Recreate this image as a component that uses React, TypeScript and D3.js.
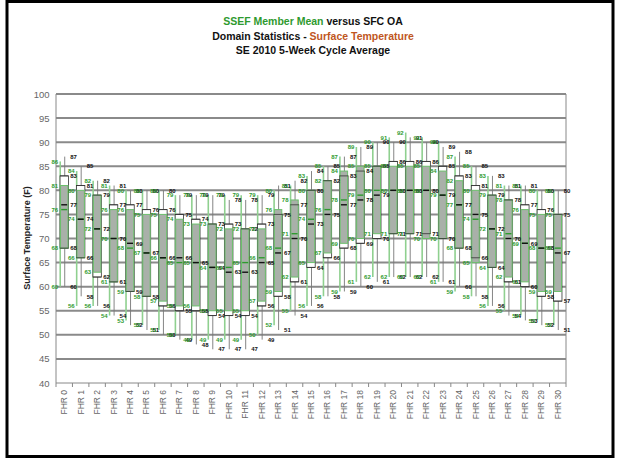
import React from "react";
import * as d3 from "d3";

const categories = d3.range(31).map((i) => `FHR ${i}`);
const yTicks = [40, 45, 50, 55, 60, 65, 70, 75, 80, 85, 90, 95, 100];

// SFC OA (black): max, q3, median, q1, min
const oaMax = [87, 85, 82, 81, 80, 80, 80, 79, 79, 79, 78, 78, 79, 81, 82, 84, 85, 87, 89, 90, 90, 91, 90, 89, 88, 85, 83, 81, 81, 80, 80];
const oaQ3 = [83, 81, 79, 77, 77, 76, 76, 75, 74, 73, 73, 72, 73, 75, 77, 80, 82, 83, 84, 85, 86, 86, 86, 85, 83, 81, 79, 78, 77, 76, 75];
const oaMed = [77, 74, 72, 70, 69, 67, 66, 66, 65, 64, 63, 63, 65, 67, 70, 73, 75, 77, 78, 79, 80, 80, 80, 79, 77, 75, 72, 70, 69, 68, 67];
const oaQ1 = [68, 66, 62, 61, 59, 58, 56, 55, 55, 54, 54, 54, 56, 58, 61, 64, 66, 68, 69, 70, 71, 71, 71, 70, 68, 66, 64, 61, 60, 58, 57];
const oaMin = [60, 58, 56, 54, 52, 51, 50, 49, 48, 47, 47, 47, 49, 51, 54, 56, 58, 59, 60, 61, 62, 62, 62, 61, 60, 58, 56, 54, 53, 52, 51];

// SSEF Member Mean (green): max, q3, median, q1, min
const ssMax = [86, 84, 82, 81, 80, 80, 80, 79, 79, 79, 79, 79, 79, 80, 81, 83, 85, 87, 89, 90, 91, 92, 91, 90, 87, 85, 83, 81, 81, 80, 80];
const ssQ3 = [81, 80, 79, 76, 76, 75, 75, 74, 73, 73, 72, 72, 72, 76, 78, 80, 82, 84, 85, 85, 85, 85, 85, 84, 82, 80, 79, 78, 76, 75, 75];
const ssMed = [76, 74, 72, 70, 68, 67, 66, 65, 65, 64, 64, 65, 66, 68, 71, 74, 76, 78, 79, 80, 80, 80, 80, 79, 77, 74, 72, 71, 69, 68, 68];
const ssQ1 = [68, 66, 63, 61, 59, 58, 57, 56, 56, 55, 55, 55, 57, 59, 62, 65, 67, 69, 70, 71, 71, 71, 70, 70, 68, 65, 64, 62, 61, 59, 59];
const ssMin = [60, 56, 56, 54, 53, 52, 51, 50, 49, 49, 49, 49, 50, 52, 55, 56, 58, 59, 61, 62, 62, 62, 62, 61, 59, 58, 56, 55, 54, 53, 52];

const W = 617;
const H = 459;
const GREEN = "#2f9a2f";
const LGREEN = "#8fd08f";
const FONT = "Liberation Sans, Arial, sans-serif";

export default function App() {
  const x = d3.scaleBand().domain(categories).range([56, 566]);
  const y = d3.scaleLinear().domain([40, 100]).range([383, 94]);
  const bw = 8.4;

  return (
    <svg width={W} height={H} style={{ position: "absolute", left: 0, top: 0, background: "#fff" }} fontFamily={FONT}>
      <rect x={0} y={0} width={W} height={H} fill="#fff" />
      {/* titles */}
      <text x={313} y={25} textAnchor="middle" fontSize={10.5} fontWeight="bold">
        <tspan fill={GREEN}>SSEF Member Mean</tspan>
        <tspan fill="#111"> versus SFC OA</tspan>
      </text>
      <text x={313} y={40} textAnchor="middle" fontSize={10.5} fontWeight="bold">
        <tspan fill="#111">Domain Statistics - </tspan>
        <tspan fill="#c0561e">Surface Temperature</tspan>
      </text>
      <text x={313} y={54} textAnchor="middle" fontSize={10.5} fontWeight="bold" fill="#111">
        SE 2010 5-Week Cycle Average
      </text>

      {/* gridlines */}
      {yTicks.map((t) => (
        <line key={t} x1={56} x2={566} y1={y(t)} y2={y(t)} stroke={t === 40 ? "#888" : "#8a8a8a"} strokeWidth={t === 40 ? 1 : 2} />
      ))}
      <line x1={56} x2={56} y1={y(100)} y2={y(40)} stroke="#888" strokeWidth={1} />
      <line x1={566} x2={566} y1={y(100)} y2={y(40)} stroke="#888" strokeWidth={1} />
      {/* y tick labels */}
      {yTicks.map((t) => (
        <text key={t} x={49.5} y={y(t) + 3.5} textAnchor="end" fontSize={9.5} fill="#666">
          {t}
        </text>
      ))}
      <text transform={`translate(30,${238}) rotate(-90)`} textAnchor="middle" fontSize={9} fontWeight="bold" fill="#222">
        Surface Temperature (F)
      </text>

      {/* x ticks and labels */}
      {categories.map((c, i) => (
        <line key={"t" + i} x1={x(c)!} x2={x(c)!} y1={383} y2={387} stroke="#888" />
      ))}
      <line x1={566} x2={566} y1={383} y2={387} stroke="#888" />
      {categories.map((c) => {
        const cx = x(c)! + x.bandwidth() / 2;
        return (
          <text key={c} transform={`translate(${cx + 3},390) rotate(-90)`} textAnchor="end" fontSize={8.5} fill="#666">
            {c}
          </text>
        );
      })}

      {/* boxes */}
      {categories.map((c, i) => {
        const cx = x(c)! + x.bandwidth() / 2;
        const gx = cx - 4;
        const bx = cx + 0.5;
        return (
          <g key={"b" + i}>
            <line x1={gx} x2={gx} y1={y(ssMax[i])} y2={y(ssMin[i])} stroke={LGREEN} strokeWidth={1.6} />
            <line x1={bx} x2={bx} y1={y(oaMax[i])} y2={y(oaMin[i])} stroke="#777" strokeWidth={0.9} />
            <rect x={cx - bw / 2} width={bw} y={y(oaQ3[i])} height={y(oaQ1[i]) - y(oaQ3[i])} fill="#fff" stroke="#333" strokeWidth={0.8} />
            <rect x={cx - bw / 2 + 0.5} width={bw - 1} y={y(ssQ3[i])} height={y(ssQ1[i]) - y(ssQ3[i])} fill="#a9b0a9" stroke="#6cbf6c" strokeWidth={1} />
            <line x1={cx - bw / 2} x2={cx + bw / 2} y1={y(oaQ3[i])} y2={y(oaQ3[i])} stroke="#333" strokeWidth={0.8} />
            <line x1={cx - bw / 2} x2={cx + bw / 2} y1={y(oaQ1[i])} y2={y(oaQ1[i])} stroke="#333" strokeWidth={0.8} />
            <line x1={cx - 3} x2={cx + 3} y1={y(ssMed[i])} y2={y(ssMed[i])} stroke={GREEN} strokeWidth={1.4} />
            <line x1={cx - 3} x2={cx + 3} y1={y(oaMed[i])} y2={y(oaMed[i])} stroke="#111" strokeWidth={1.4} />
          </g>
        );
      })}

      {/* value labels */}
      {categories.map((c, i) => {
        const cx = x(c)! + x.bandwidth() / 2;
        const gv = [ssMax[i], ssQ3[i], ssMed[i], ssQ1[i], ssMin[i]];
        const bv = [oaMax[i], oaQ3[i], oaMed[i], oaQ1[i], oaMin[i]];
        return (
          <g key={"l" + i} fontSize={6} fontWeight="bold">
            {gv.map((v, k) => (
              <text key={"g" + k} x={cx - 6} y={y(v) + 2.2} textAnchor="end" fill={GREEN}>
                {v}
              </text>
            ))}
            {bv.map((v, k) => (
              <text key={"k" + k} x={cx + 6} y={y(v) + 2.2} textAnchor="start" fill="#111">
                {v}
              </text>
            ))}
          </g>
        );
      })}

      {/* outer frame */}
      <rect x={7} y={1.5} width={606} height={455} fill="none" stroke="#000" strokeWidth={3} />
    </svg>
  );
}
